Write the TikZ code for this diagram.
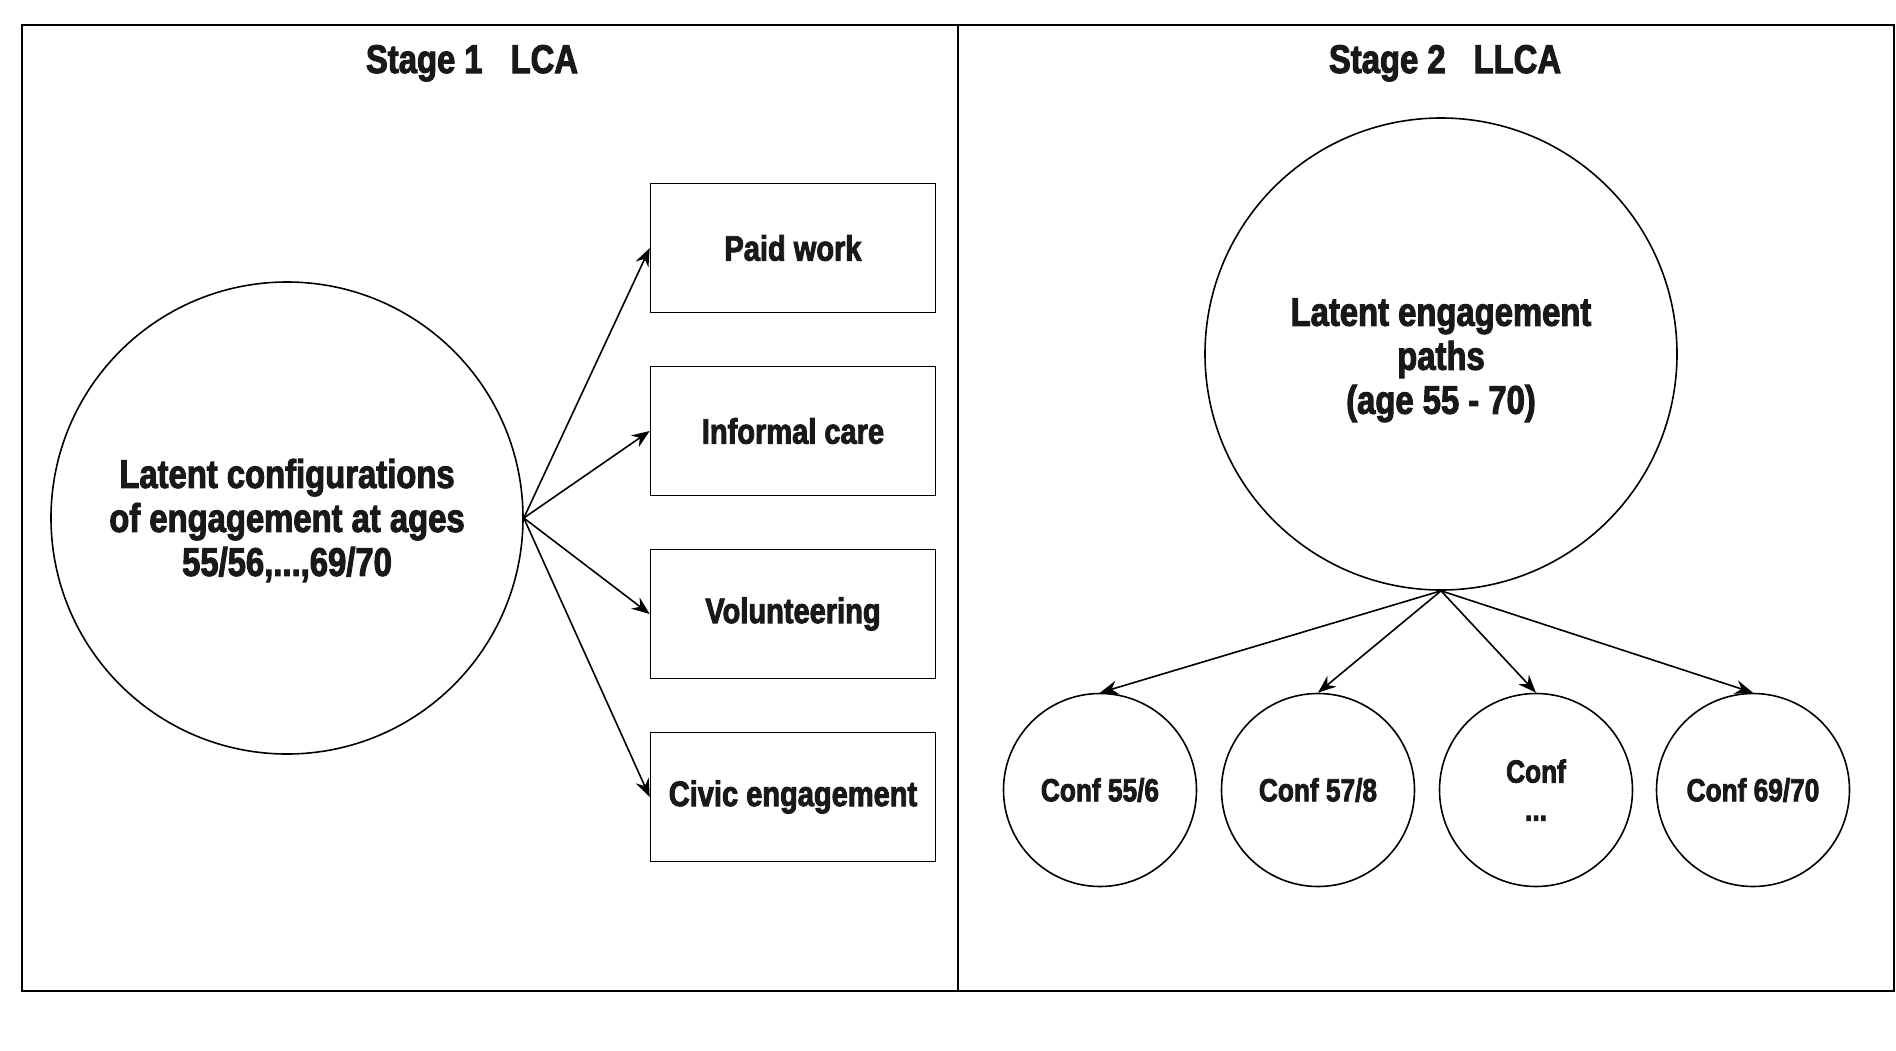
\documentclass[tikz,border=0pt]{standalone}
\usepackage{fontspec}
\setmainfont{Liberation Sans}[FakeStretch=0.82, BoldFeatures={FakeBold=2.5}]
\usetikzlibrary{arrows.meta}
\tikzset{
  txt/.style={font=\bfseries\fontsize{20pt}{22pt}\selectfont, align=center, text=black!90},
  bigcirc/.style={draw, circle, line width=0.8pt, minimum size=236pt, inner sep=0pt, txt},
  smallcirc/.style={draw, circle, line width=0.8pt, minimum size=96.5pt, inner sep=0pt, txt, font=\bfseries\fontsize{16pt}{19pt}\selectfont},
  itembox/.style={draw, rectangle, line width=0.8pt, minimum width=142.5pt, minimum height=64.5pt, inner sep=0pt, txt, font=\bfseries\fontsize{17.7pt}{20pt}\selectfont},
  ttl/.style={txt, anchor=base},
  arr/.style={line width=0.8pt, -{Stealth[length=9pt, width=7pt, inset=3pt]}}
}
\begin{document}
\begin{tikzpicture}[x=0.5pt, y=-0.5pt]
\useasboundingbox (0,0) rectangle (1896,1050);
% frame
\coordinate (fa) at (22,25);
\coordinate (fb) at (1894,991);
\coordinate (da) at (958,25);
\coordinate (db) at (958,991);
\draw[line width=1pt] (fa) rectangle (fb);
\draw[line width=1pt] (da) -- (db);
% titles
\node[ttl] (t1) at (472,73) {Stage 1\hspace{14pt}LCA};
\node[ttl] (t2) at (1445,73) {Stage 2\hspace{14pt}LLCA};
% stage 1
\node[bigcirc] (L) at (287,518) {\rule{0pt}{17pt}Latent configurations\\of engagement at ages\\55/56,...,69/70};
\node[itembox] (b1) at (793,248) {Paid work};
\node[itembox] (b2) at (793,431) {Informal care};
\node[itembox] (b3) at (793,614) {Volunteering};
\node[itembox] (b4) at (793,797) {Civic engagement};
\foreach \b in {b1,b2,b3,b4} \draw[arr] (L.east) -- (\b.west);
% stage 2
\node[bigcirc] (R) at (1441,354) {\rule{0pt}{20pt}Latent engagement\\paths\\(age 55 - 70)};
\node[smallcirc] (c1) at (1100,790) {Conf 55/6};
\node[smallcirc] (c2) at (1318,790) {Conf 57/8};
\node[smallcirc] (c3) at (1536,790) {Conf\\...};
\node[smallcirc] (c4) at (1753,790) {Conf 69/70};
\foreach \c in {c1,c2,c3,c4} \draw[arr] (R.south) -- (\c.north);
\end{tikzpicture}
\end{document}
